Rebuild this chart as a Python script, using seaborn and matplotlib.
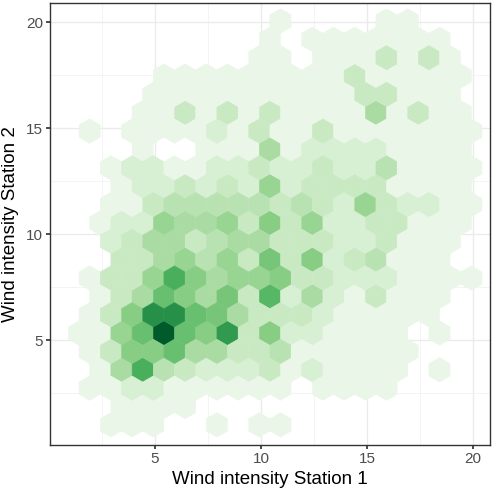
import numpy as np
import seaborn as sns
import matplotlib.pyplot as plt
from matplotlib.colors import LinearSegmentedColormap, PowerNorm

# hex row index k -> y = 5.33 + 0.866*k ; even rows start at x=1.42, odd rows at x=1.92 (step 1)
rows = {
    17: [0,0,0,0,0,0,0,0,0,2,0,0,0,0,2,2,0,0,0],
    16: [0,0,0,0,0,0,0,0,0,2,0,2,2,2,2,2,2,2,0],
    15: [0,0,0,0,0,0,0,0,2,2,0,2,2,2,4,2,4,2,0],
    14: [0,0,0,0,2,2,2,2,2,2,2,2,2,4,2,2,2,2,2],
    13: [0,0,0,2,2,2,2,2,2,2,2,2,2,4,4,2,2,2,0],
    12: [0,0,0,2,2,4,2,4,2,4,2,2,2,2,6,2,4,2,2],
    11: [2,0,2,2,2,2,3,2,4,2,2,4,2,2,2,2,2,2,2],
    10: [0,0,0,2,0,0,2,2,2,6,2,3,3,3,3,2,2,2,2],
    9:  [0,2,3,3,2,2,3,3,4,3,3,4,3,3,5,2,2,2,2],
    8:  [0,0,2,3,3,4,3,4,3,7,3,4,4,4,4,2,2,2,2],
    7:  [0,2,2,4,5,5,5,5,5,4,5,4,3,7,4,3,3,2,2],
    6:  [0,2,3,3,7,6,6,7,4,8,4,7,3,3,4,4,2,2,2],
    5:  [0,3,4,6,6,4,5,6,6,4,4,4,3,3,4,2,2,2,0],
    4:  [0,0,4,4,6,7,5,7,4,9,4,8,3,4,5,2,2,2,0],
    3:  [2,4,4,7,12,8,6,7,7,8,4,4,3,3,3,2,2,2,2],
    2:  [0,2,4,6,10,8,6,9,4,11,3,6,3,2,4,2,2,2,0],
    1:  [2,4,8,15,15,10,9,6,4,4,4,3,2,2,2,2,2,0,0],
    0:  [2,2,7,10,20,10,8,14,4,8,3,3,2,2,2,2,0,2,0],
    -1: [2,4,8,8,10,6,6,4,4,5,2,2,2,2,2,2,0,0,0],
    -2: [0,2,6,12,5,4,3,3,3,4,2,3,2,2,2,2,0,2,0],
    -3: [2,2,3,3,2,2,2,2,2,2,0,2,2,2,2,0,0,0,0],
    -4: [0,0,2,2,2,2,0,0,0,0,0,0,0,0,0,0,0,0,0],
    -5: [0,2,2,2,0,0,2,0,2,2,0,0,0,0,0,0,0,0,0],
}

xs, ys, cs = [], [], []
for k, counts in rows.items():
    x0 = 1.42 if k % 2 == 0 else 1.92
    for i, c in enumerate(counts):
        if c > 0:
            xs.append(x0 + i)
            ys.append(5.33 + 0.866 * k)
            cs.append(c)

sns.set_theme(style="whitegrid")
plt.rcParams["font.family"] = ["Liberation Sans", "DejaVu Sans"]
fig = plt.figure(figsize=(4.96, 4.92), dpi=100)
ax = fig.add_axes([50/496, 47/492, 440/496, 442/492])

cmap = LinearSegmentedColormap.from_list(
    "g", ["#eaf6e7", "#c4e7bd", "#8ccf86", "#4fb460", "#1f8a45", "#005a2a"])
ymin = 5.33 - 1.732 * 3
ax.hexbin(xs, ys, C=cs, reduce_C_function=np.sum, gridsize=(21, 12),
          extent=(0.42, 21.42, ymin, ymin + 12 * 1.732), cmap=cmap,
          norm=PowerNorm(gamma=0.8, vmin=2, vmax=20), mincnt=1,
          edgecolors="face", linewidths=0.3, zorder=2)

ax.set_xlim(0.05, 20.8)
ax.set_ylim(0.05, 20.9)
ax.set_xticks([5, 10, 15, 20])
ax.set_yticks([5, 10, 15, 20])
ax.set_xticks([2.5, 7.5, 12.5, 17.5], minor=True)
ax.set_yticks([2.5, 7.5, 12.5, 17.5], minor=True)
ax.grid(which="major", color="#ebebeb", linewidth=1.0)
ax.grid(which="minor", color="#f2f2f2", linewidth=0.6)
ax.set_facecolor("white")
for s in ax.spines.values():
    s.set_color("#333333")
    s.set_linewidth(1.0)
ax.tick_params(axis="both", which="major", length=3, color="#333333", pad=2,
               labelsize=11, labelcolor="#4d4d4d", bottom=True, left=True)
ax.tick_params(which="minor", length=0)
ax.set_xlabel("Wind intensity Station 1", fontsize=13.5, color="black", labelpad=4)
ax.set_ylabel("Wind intensity Station 2", fontsize=13.5, color="black", labelpad=5)

fig.savefig("out.png", dpi=100)
